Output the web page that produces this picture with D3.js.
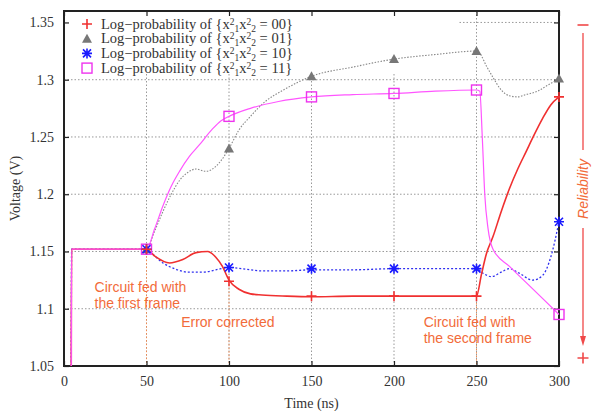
<!DOCTYPE html>
<html>
<head>
<meta charset="utf-8">
<script src="https://cdn.jsdelivr.net/npm/d3@7"></script>
<style>
  body { margin: 0; background: #fff; }
  .tick text { font-family: "Liberation Serif", "Times New Roman", serif; font-size: 14px; fill: #333; }
  .axisText { font-family: "Liberation Serif", "Times New Roman", serif; font-size: 14px; fill: #333; }
  .note { font-family: "Liberation Sans", Arial, sans-serif; font-size: 14px; fill: #f26b3a; }
  .legendText { font-family: "Liberation Serif", "Times New Roman", serif; font-size: 14.5px; fill: #333; }
</style>
</head>
<body>
<div class="chart"></div>
<script>
// Chart data
let xTicks = [0, 50, 100, 150, 200, 250, 300];
let yTicks = [1.05, 1.1, 1.15, 1.2, 1.25, 1.3, 1.35];

let seriesCodes = ["00", "01", "10", "11"];

// curves: [time, voltage]
let curve00 = [[4.4,1.05],[4.6,1.152],[50,1.152],[55,1.146],[64,1.140],[72,1.143],[80,1.149],[87,1.150],[92,1.145],[96,1.137],[100,1.125],[106,1.117],[113,1.113],[120,1.112],[135,1.111],[150,1.1105],[175,1.111],[200,1.111],[225,1.111],[250,1.111],[253,1.13],[256,1.148],[260,1.163],[265,1.185],[270,1.205],[275,1.222],[280,1.237],[285,1.252],[290,1.266],[295,1.278],[300,1.285]];
let curve01 = [[4.4,1.05],[4.6,1.152],[50,1.152],[55,1.168],[60,1.185],[65,1.2],[70,1.212],[75,1.219],[80,1.222],[86,1.22],[90,1.222],[95,1.229],[100,1.24],[106,1.256],[113,1.268],[122,1.281],[133,1.291],[150,1.303],[175,1.311],[200,1.318],[225,1.322],[250,1.325],[252,1.323],[256,1.312],[260,1.302],[265,1.291],[270,1.286],[275,1.285],[280,1.287],[287,1.29],[293,1.295],[300,1.301]];
let curve10 = [[4.4,1.05],[4.6,1.152],[50,1.152],[55,1.146],[60,1.140],[67,1.135],[75,1.132],[85,1.132],[92,1.134],[100,1.136],[108,1.135],[120,1.133],[135,1.133],[150,1.134],[175,1.134],[200,1.135],[225,1.135],[250,1.135],[254,1.131],[259,1.128],[265,1.132],[270,1.135],[276,1.131],[284,1.125],[290,1.129],[295,1.145],[300,1.176]];
let curve11 = [[4.4,1.05],[4.6,1.152],[50,1.152],[55,1.17],[60,1.19],[65,1.207],[70,1.22],[76,1.233],[82,1.243],[90,1.257],[95,1.264],[100,1.268],[113,1.275],[130,1.281],[150,1.285],[175,1.287],[200,1.288],[225,1.29],[250,1.291],[252,1.29],[253.5,1.25],[255,1.2],[257,1.17],[260,1.152],[270,1.137],[280,1.123],[290,1.109],[300,1.095]];

// marker points
let markTimes = [50, 100, 150, 200, 250, 300];
let mark00 = [1.152, 1.124, 1.111, 1.111, 1.111, 1.285];
let mark01 = [1.152, 1.24, 1.303, 1.318, 1.325, 1.301];
let mark10 = [1.152, 1.136, 1.135, 1.135, 1.135, 1.176];
let mark11 = [1.152, 1.268, 1.285, 1.288, 1.291, 1.095];

// annotations
let noteTimes = [50, 100, 250];

// Set up chart
let svgWidth = 593;
let svgHeight = 411;
let margin = { top: 11, right: 34, bottom: 45, left: 64 };
let chartWidth = svgWidth - margin.left - margin.right;
let chartHeight = svgHeight - margin.top - margin.bottom;

let svg = d3.select(".chart").append("svg")
  .attr("width", svgWidth)
  .attr("height", svgHeight);

let chart = svg.append("g")
  .attr("transform", `translate(${margin.left}, ${margin.top})`);

let x = d3.scaleLinear().domain([0, 300]).range([0, chartWidth]);
let y = d3.scaleLinear().domain([1.05, 1.36]).range([chartHeight, 0]);

// grid
chart.append("g").selectAll("line")
  .data(xTicks.slice(1, -1)).enter().append("line")
  .attr("x1", d => x(d)).attr("x2", d => x(d))
  .attr("y1", 0).attr("y2", chartHeight)
  .attr("stroke", "#999").attr("stroke-width", 1).attr("stroke-dasharray", "1.5,2");
chart.append("g").selectAll("line")
  .data(yTicks.slice(1)).enter().append("line")
  .attr("x1", 0).attr("x2", chartWidth)
  .attr("y1", d => y(d)).attr("y2", d => y(d))
  .attr("stroke", "#999").attr("stroke-width", 1).attr("stroke-dasharray", "1.5,2");

// legend background hides the grid behind it
chart.append("rect")
  .attr("x", 1).attr("y", 1)
  .attr("width", 393).attr("height", 62)
  .attr("fill", "#fff");

// orange dotted verticals
chart.append("g").selectAll("line")
  .data(noteTimes).enter().append("line")
  .attr("x1", d => x(d)).attr("x2", d => x(d))
  .attr("y1", d => y(mark00[markTimes.indexOf(d)]))
  .attr("y2", chartHeight)
  .attr("stroke", "#f08a50").attr("stroke-width", 1).attr("stroke-dasharray", "1.5,2");

// axes (ticks inside, mirrored)
let bottomAxis = d3.axisBottom(x).tickValues(xTicks).tickSizeInner(-5).tickSizeOuter(0).tickPadding(10);
let leftAxis = d3.axisLeft(y).tickValues(yTicks).tickSizeInner(-5).tickSizeOuter(0).tickPadding(10)
  .tickFormat(d3.format("~g"));

chart.append("g").attr("transform", `translate(0, ${chartHeight})`).call(bottomAxis);
chart.append("g").call(leftAxis);
chart.append("g").call(d3.axisTop(x).tickValues(xTicks).tickSizeInner(-5).tickSizeOuter(0).tickFormat(""));
chart.append("g").attr("transform", `translate(${chartWidth}, 0)`)
  .call(d3.axisRight(y).tickValues(yTicks).tickSizeInner(-5).tickSizeOuter(0).tickFormat(""));
chart.selectAll(".domain").remove();
chart.selectAll(".tick line").attr("stroke", "#222").attr("stroke-width", 1.2);

// frame
chart.append("rect")
  .attr("width", chartWidth).attr("height", chartHeight)
  .attr("fill", "none").attr("stroke", "#222").attr("stroke-width", 2);

// lines
let line = d3.line()
  .x(d => x(d[0]))
  .y(d => y(d[1]))
  .curve(d3.curveMonotoneX);

let styles = {
  "00": { color: "#f03030", width: 1.6, dash: null },
  "01": { color: "#888", width: 1.1, dash: "1.5,1.5" },
  "10": { color: "#3030f0", width: 1.3, dash: "2,2" },
  "11": { color: "#ff55ff", width: 1.2, dash: null }
};
let curves = { "00": curve00, "01": curve01, "10": curve10, "11": curve11 };
let marks = { "00": mark00, "01": mark01, "10": mark10, "11": mark11 };

let plot = chart.append("g");
["01", "10", "00", "11"].forEach(function(code) {
  plot.append("path")
    .datum(curves[code])
    .attr("fill", "none")
    .attr("stroke", styles[code].color)
    .attr("stroke-width", styles[code].width)
    .attr("stroke-dasharray", styles[code].dash)
    .attr("d", line);
});

// marker drawing
function drawMarker(g, code, cx, cy) {
  let c = styles[code].color;
  if (code === "00") {
    g.append("path").attr("d", `M${cx-5},${cy}H${cx+5}M${cx},${cy-5}V${cy+5}`)
      .attr("stroke", c).attr("stroke-width", 1.6).attr("fill", "none");
  } else if (code === "01") {
    g.append("path").attr("d", `M${cx},${cy-5}L${cx+5},${cy+4}L${cx-5},${cy+4}Z`)
      .attr("fill", "#777");
  } else if (code === "10") {
    g.append("path")
      .attr("d", `M${cx-5},${cy}H${cx+5}M${cx},${cy-5}V${cy+5}M${cx-4},${cy-4}L${cx+4},${cy+4}M${cx-4},${cy+4}L${cx+4},${cy-4}`)
      .attr("stroke", "#1a1aff").attr("stroke-width", 1.6).attr("fill", "none");
  } else {
    g.append("rect").attr("x", cx - 5).attr("y", cy - 5).attr("width", 10).attr("height", 10)
      .attr("fill", "none").attr("stroke", "#ee33ee").attr("stroke-width", 1.4);
  }
}

let markG = chart.append("g");
["01", "11", "10", "00"].forEach(function(code) {
  markTimes.forEach(function(t, i) {
    drawMarker(markG, code, x(t), y(marks[code][i]));
  });
});

// legend
let legend = chart.append("g");
seriesCodes.forEach(function(code, i) {
  let ly = 13 + i * 14.7;
  drawMarker(legend, code, 23, ly);
  let t = legend.append("text").attr("class", "legendText")
    .attr("x", 37).attr("y", ly + 4.5);
  t.append("tspan").text("Log\u2212probability of {x");
  t.append("tspan").attr("dy", -4).attr("font-size", "9.5px").text("2");
  t.append("tspan").attr("dy", 7).attr("font-size", "9.5px").text("1");
  t.append("tspan").attr("dy", -3).text("x");
  t.append("tspan").attr("dy", -4).attr("font-size", "9.5px").text("2");
  t.append("tspan").attr("dy", 7).attr("font-size", "9.5px").text("2");
  t.append("tspan").attr("dy", -3).text(" = " + code + "}");
});

// annotations
chart.append("text").attr("class", "note").attr("x", x(18.5)).attr("y", y(1.1145)).text("Circuit fed with");
chart.append("text").attr("class", "note").attr("x", x(18.5)).attr("y", y(1.101)).text("the first frame");
chart.append("text").attr("class", "note").attr("x", x(71)).attr("y", y(1.084)).text("Error corrected");
chart.append("text").attr("class", "note").attr("x", x(218)).attr("y", y(1.084)).text("Circuit fed with");
chart.append("text").attr("class", "note").attr("x", x(218)).attr("y", y(1.07)).text("the second frame");

// axis labels
chart.append("text")
  .attr("class", "axisText")
  .attr("text-anchor", "middle")
  .attr("x", x(150)).attr("y", chartHeight + 42)
  .text("Time (ns)");
chart.append("text")
  .attr("class", "axisText")
  .attr("text-anchor", "middle")
  .attr("transform", `translate(${-margin.left + 20}, ${chartHeight / 2}) rotate(-90)`)
  .text("Voltage (V)");

// reliability arrow on the right
let rx = 583;
let rel = svg.append("g");
rel.append("line").attr("x1", rx - 5.5).attr("x2", rx + 5.5).attr("y1", 25).attr("y2", 25)
  .attr("stroke", "#f04848").attr("stroke-width", 1.6);
rel.append("line").attr("x1", rx).attr("x2", rx).attr("y1", 33).attr("y2", 150)
  .attr("stroke", "#f04848").attr("stroke-width", 1.3);
rel.append("line").attr("x1", rx).attr("x2", rx).attr("y1", 228).attr("y2", 340)
  .attr("stroke", "#f04848").attr("stroke-width", 1.3);
rel.append("path").attr("d", `M${rx-3},${336}L${rx},${346}L${rx+3},${336}Z`).attr("fill", "#f04848");
rel.append("path").attr("d", `M${rx-5.5},358H${rx+5.5}M${rx},352.5V363.5`)
  .attr("stroke", "#f04848").attr("stroke-width", 1.6);
rel.append("text")
  .attr("class", "note")
  .attr("font-style", "italic")
  .attr("text-anchor", "middle")
  .attr("transform", `translate(${rx + 5}, 189) rotate(-90)`)
  .text("Reliability");
</script>
</body>
</html>
